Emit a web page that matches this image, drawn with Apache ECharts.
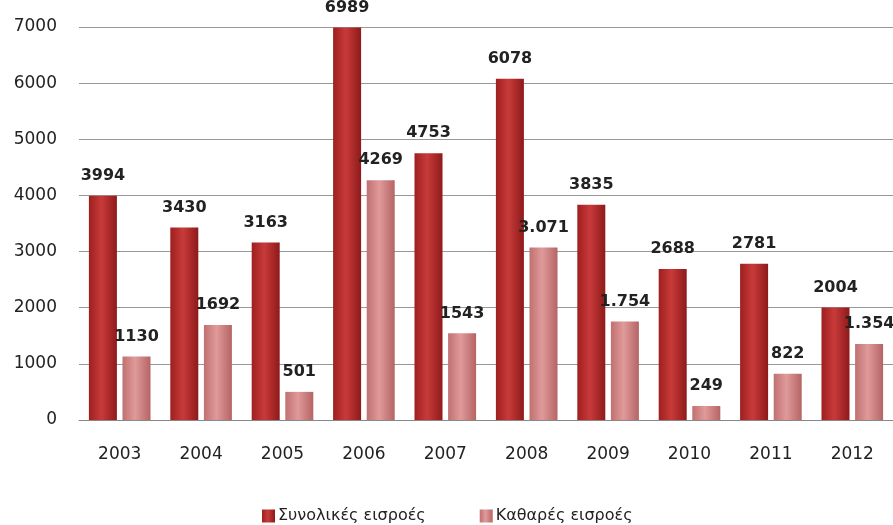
<!DOCTYPE html>
<html><head><meta charset="utf-8">
<script src="https://cdn.jsdelivr.net/npm/echarts@6/dist/echarts.min.js"></script>
<style>html,body{margin:0;padding:0;background:#fff}#c{width:893px;height:525px}</style>
</head><body><div id="c"></div>
<script>
const years = ['2003','2004','2005','2006','2007','2008','2009','2010','2011','2012'];
const totalName = 'Συνολικές εισροές';
const netName = 'Καθαρές εισροές';
const totalValues = [3994, 3430, 3163, 6989, 4753, 6078, 3835, 2688, 2781, 2004];
const netValues = [1130, 1692, 501, 4269, 1543, 3071, 1754, 249, 822, 1354];
const totalLabels = ['3994','3430','3163','6989','4753','6078','3835','2688','2781','2004'];
const netLabels = ['1130','1692','501','4269','1543','3.071','1.754','249','822','1.354'];

const font = 'DejaVu Sans';
function grad(c1, c2, c3) {
  return new echarts.graphic.LinearGradient(0, 0, 1, 0, [
    {offset: 0, color: c1}, {offset: 0.45, color: c2}, {offset: 1, color: c3}
  ]);
}
const chart = echarts.init(document.getElementById('c'));
chart.setOption({
  animation: false,
  backgroundColor: '#fff',
  grid: {left: 79, right: 0, top: 27, bottom: 105, containLabel: false},
  legend: {
    top: 503, left: 257, itemWidth: 13, itemHeight: 13, itemGap: 54,
    icon: 'rect',
    textStyle: {fontFamily: font, fontSize: 16, color: '#222', padding: [0, 0, 0, -2]},
    data: [totalName, netName]
  },
  xAxis: {
    type: 'category', data: years,
    axisLine: {lineStyle: {color: '#888'}},
    axisTick: {show: false},
    axisLabel: {fontFamily: font, fontSize: 17, color: '#222', margin: 26}
  },
  yAxis: {
    type: 'value', min: 0, max: 7000, interval: 1000,
    axisLine: {show: false}, axisTick: {show: false},
    splitLine: {lineStyle: {color: '#999'}},
    axisLabel: {fontFamily: font, fontSize: 17, color: '#222', margin: 22, formatter: v => String(v)}
  },
  series: [
    {
      name: totalName, type: 'bar', data: totalValues, barWidth: 28, barGap: '20%',
      itemStyle: {color: grad('#9e1f1f', '#c83a3a', '#8e1a1a')},
      label: {show: true, position: 'top', distance: 12, fontFamily: font, fontSize: 16,
        fontWeight: 'bold', color: '#222', formatter: p => totalLabels[p.dataIndex]}
    },
    {
      name: netName, type: 'bar', data: netValues, barWidth: 28,
      itemStyle: {color: grad('#c07070', '#e09a9a', '#b56464')},
      label: {show: true, position: 'top', distance: 12, fontFamily: font, fontSize: 16,
        fontWeight: 'bold', color: '#222', formatter: p => netLabels[p.dataIndex]}
    }
  ]
});
</script></body></html>
